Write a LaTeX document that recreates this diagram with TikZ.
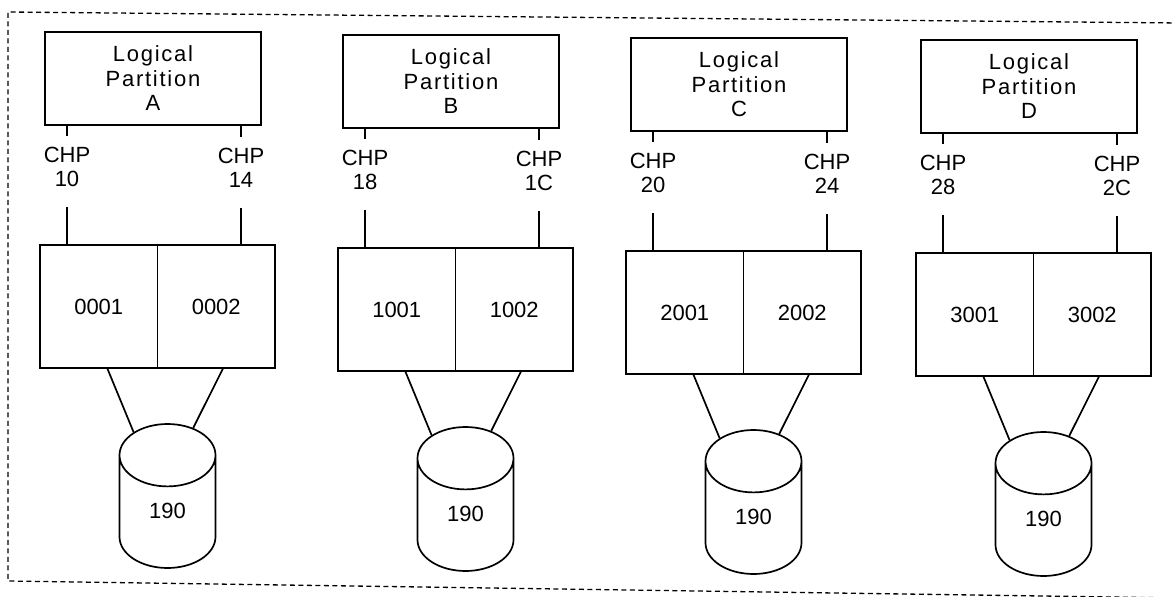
\documentclass[tikz,border=0pt]{standalone}
\usepackage{fontspec}
\setmainfont{Liberation Sans}
\newfontfamily\lparfont{Liberation Sans}[LetterSpace=8]
\usetikzlibrary{shapes.geometric}

\begin{document}
\begin{tikzpicture}
[x=1pt,y=-1pt,line width=1.7pt,
  font=\fontsize{22}{24.5}\selectfont,
  lparDecorate/.style={shape=rectangle,draw,minimum width=216pt,minimum height=93pt,%
    align=center,inner sep=0pt,font=\fontsize{22}{24.5}\selectfont\lparfont},
  chpDecorate/.style={align=center,inner sep=0pt},
  devDecorate/.style={shape=rectangle,draw,minimum width=117.5pt,minimum height=123pt,inner sep=0pt},
  diskDecorate/.style={shape=cylinder,shape border rotate=90,draw,aspect=1.7,anchor=shape center,%
    minimum width=96pt,minimum height=144pt,inner sep=0pt,text height=12pt,text depth=0pt},
  frameDecorate/.style={dash pattern=on 5pt off 3.5pt,line width=1.3pt}]
\useasboundingbox (0,0) rectangle (1173,597);
%% outer frame
\draw[frameDecorate] (1180,23) -- (8,12) -- (8,581) -- (1180,598);
%% one column per logical partition
\foreach \g/\lx/\ty/\ca/\cb/\da/\db in {
  A/45/32/10/14/0001/0002, B/343/35/18/1C/1001/1002,
  C/631/38/20/24/2001/2002, D/921/40/28/2C/3001/3002}
{
  \node (lpar\g) at (\lx+108,\ty+46.5) [lparDecorate] {Logical\\Partition\\\g};
  \node (chpl\g) at (\lx+22,\ty+135) [chpDecorate] {CHP\\\ca};
  \node (chpr\g) at (\lx+196,\ty+136) [chpDecorate] {CHP\\\cb};
  \node (devl\g) at (\lx+53.75,\ty+274.5) [devDecorate] {\da};
  \node (devr\g) at (\lx+171.25,\ty+274.5) [devDecorate] {\db};
  \node (disk\g) at (\lx+122.5,\ty+464) [diskDecorate] {190};
  %% channel paths
  \draw[shorten >=10pt] (lpar\g.south -| chpl\g) -- (chpl\g.north);
  \draw[shorten >=10pt] (lpar\g.south -| chpr\g) -- (chpr\g.north);
  \draw[shorten <=19pt] (chpl\g.south) -- (chpl\g |- devl\g.north);
  \draw[shorten <=19pt] (chpr\g.south) -- (chpr\g |- devr\g.north);
  %% devices to volume
  \draw (devl\g.-82) -- (disk\g.113);
  \draw (devr\g.-84) -- (disk\g.73);
}
\end{tikzpicture}
\end{document}
